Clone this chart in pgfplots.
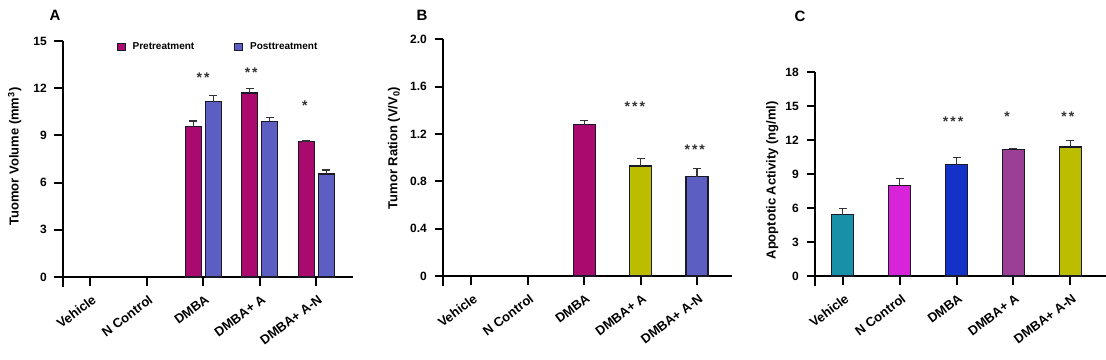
\documentclass[border=0pt]{standalone}
\usepackage{fontspec}
\setmainfont{Liberation Sans}
\usepackage{pgfplots}
\pgfplotsset{compat=1.18}
\definecolor{cPre}{RGB}{170,10,110}
\definecolor{cPost}{RGB}{92,94,194}
\definecolor{cOlive}{RGB}{189,189,0}
\definecolor{cTeal}{RGB}{24,144,168}
\definecolor{cMag}{RGB}{216,36,216}
\definecolor{cBlue}{RGB}{20,50,200}
\definecolor{cPurp}{RGB}{155,63,150}
\definecolor{cEdge}{RGB}{25,25,40}
\newcommand{\sk}{\hspace{2pt}}
\tikzset{star/.style={font=\fontsize{14}{16}\selectfont\bfseries, text=black!80}}
\pgfplotsset{
  panel/.style={
    scale only axis, axis lines=left, axis line style={-, line width=2pt, black},
    tick align=outside, clip=false,
    major tick length=8.5pt,
    tick style={line width=2pt, black},
    xtick={0,1,2,3,4}, xticklabels={Vehicle, N Control, DMBA, DMBA+ A, DMBA+ A-N},
    xticklabel style={rotate=37, anchor=north east, font=\fontsize{13}{15}\selectfont\bfseries, inner sep=1pt, xshift=-3.2pt, yshift=-6.6pt},
    yticklabel style={font=\fontsize{12}{14}\selectfont\bfseries, inner sep=2.5pt, xshift=-5pt},
    /pgf/number format/assume math mode=true,
    ylabel style={font=\fontsize{13}{15}\selectfont\bfseries},
    ymin=0,
  },
  eb/.style={draw=cEdge, line width=1.2pt, error bars/.cd, y dir=plus, y explicit,
    error bar style={line width=1.2pt, black!80},
    error mark options={rotate=90, mark size=4pt, line width=1.2pt, black!80}, /pgfplots/.cd},
}
\begin{document}
\begin{tikzpicture}
\useasboundingbox (0,0) rectangle (1106pt,359pt);
\node[font=\fontsize{15}{18}\selectfont\bfseries] at (55pt,344pt) {A};
\node[font=\fontsize{15}{18}\selectfont\bfseries] at (422pt,344pt) {B};
\node[font=\fontsize{15}{18}\selectfont\bfseries] at (800pt,343pt) {C};
% Panel A
\begin{axis}[panel, at={(63pt,82pt)}, anchor=south west, width=290pt, height=236pt,
  xmin=-0.48, xmax=4.65, ymax=15, ytick={0,3,6,9,12,15},
  ybar=4pt, bar width=16pt,
  ylabel={Tuomor Volume (mm\textsuperscript{3})},
  ylabel style={at={(ticklabel cs:0.51,6pt)}},
  legend columns=2, legend cell align=left,
  legend style={draw=none, fill=none, at={(rel axis cs:0.185,0.975)}, anchor=west,
    font=\fontsize{10}{12}\selectfont\bfseries, inner sep=0pt,
    /tikz/every odd column/.append style={column sep=5pt},
    /tikz/every even column/.append style={column sep=38pt}},
]
\addplot[fill=cPre, legend image code/.code={\fill[cPre, draw=cEdge, line width=0.8pt] (0pt,-3.8pt) rectangle (8pt,3.8pt);}, eb]
  coordinates {(2,9.55) +- (0,0.37) (3,11.7) +- (0,0.26) (4,8.6) +- (0,0.04)};
\addplot[fill=cPost, legend image code/.code={\fill[cPost, draw=cEdge, line width=0.8pt] (0pt,-3.8pt) rectangle (8pt,3.8pt);}, eb]
  coordinates {(2,11.15) +- (0,0.4) (3,9.9) +- (0,0.22) (4,6.55) +- (0,0.25)};
\legend{Pretreatment, Posttreatment}
\node[star] at (axis cs:2,12.7) {*\sk*};
\node[star] at (axis cs:2.85,13.0) {*\sk*};
\node[star] at (axis cs:3.8,10.9) {*};
\draw[line width=2pt] (rel axis cs:0,0) -- ([yshift=-10pt]rel axis cs:0,0);
\end{axis}
% Panel B
\begin{axis}[panel, at={(443pt,83pt)}, anchor=south west, width=289pt, height=236.7pt,
  xmin=-0.5, xmax=4.62, ymax=2, ytick={0,0.4,0.8,1.2,1.6,2.0},
  yticklabels={0,0.4,0.8,1.2,1.6,2.0},
  ybar, bar width=22pt,
  ylabel={Tumor Ration (V/V\textsubscript{0})},
  ylabel style={at={(ticklabel cs:0.54,4pt)}},
]
\addplot[fill=cPre, bar shift=0pt, eb] coordinates {(2,1.28) +- (0,0.035)};
\addplot[fill=cOlive, bar shift=0pt, eb] coordinates {(3,0.93) +- (0,0.06)};
\addplot[fill=cPost, bar shift=0pt, eb] coordinates {(4,0.84) +- (0,0.065)};
\node[star] at (axis cs:2.9,1.43) {*\sk*\sk*};
\node[star] at (axis cs:3.96,1.07) {*\sk*\sk*};
\draw[line width=2pt] (rel axis cs:0,0) -- ([yshift=-10pt]rel axis cs:0,0);
\end{axis}
% Panel C
\begin{axis}[panel, at={(815pt,83pt)}, anchor=south west, width=291pt, height=203.7pt,
  xmin=-0.49, xmax=4.63, ymax=18, ytick={0,3,6,9,12,15,18},
  ybar, bar width=22pt,
  ylabel={Apoptotic Activity (ng/ml)},
  ylabel style={at={(ticklabel cs:0.47,1pt)}},
]
\addplot[fill=cTeal, bar shift=0pt, eb] coordinates {(0,5.4) +- (0,0.6)};
\addplot[fill=cMag, bar shift=0pt, eb] coordinates {(1,8.0) +- (0,0.63)};
\addplot[fill=cBlue, bar shift=0pt, eb] coordinates {(2,9.85) +- (0,0.65)};
\addplot[fill=cPurp, bar shift=0pt, eb] coordinates {(3,11.2) +- (0,0.1)};
\addplot[fill=cOlive, bar shift=0pt, eb] coordinates {(4,11.4) +- (0,0.6)};
\node[star] at (axis cs:1.94,13.6) {*\sk*\sk*};
\node[star] at (axis cs:2.89,14.1) {*};
\node[star] at (axis cs:3.96,14.1) {*\sk*};
\draw[line width=2pt] (rel axis cs:0,0) -- ([yshift=-10pt]rel axis cs:0,0);
\end{axis}
\end{tikzpicture}
\end{document}
